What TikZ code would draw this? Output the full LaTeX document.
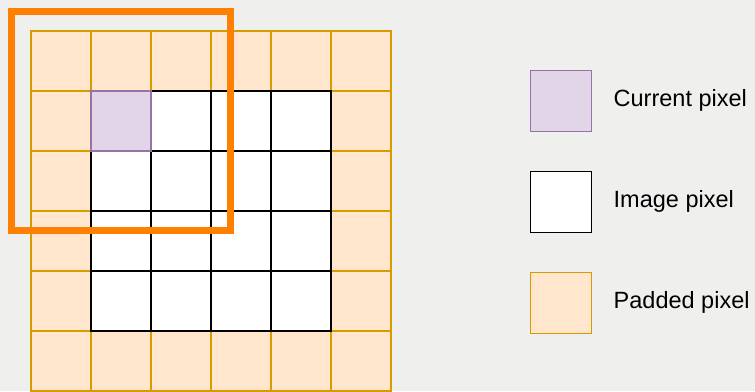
\documentclass[tikz,border=0pt]{standalone}
\usepackage{fontspec}
\setmainfont{Liberation Sans}
\usetikzlibrary{positioning,fit}
\definecolor{paper}{RGB}{239,239,238}
\definecolor{padfill}{HTML}{FFE6CC}
\definecolor{paddraw}{HTML}{D79B00}
\definecolor{curfill}{HTML}{E1D5E7}
\definecolor{curdraw}{HTML}{9673A6}
\definecolor{winorange}{HTML}{FF8000}
\tikzset{
  pix/.style   ={rectangle, minimum size=60pt, inner sep=0pt, outer sep=0pt, line width=1.4pt},
  padpix/.style={pix, draw=paddraw, fill=padfill},
  imgpix/.style={pix, draw=black, fill=white},
  curpix/.style={pix, draw=curdraw, fill=curfill},
  win/.style   ={rectangle, draw=winorange, line width=7pt, inner sep=19.5pt, outer sep=0pt},
  legtxt/.style={font=\fontsize{23.5}{28}\selectfont, inner sep=0pt, anchor=west},
}

\begin{document}
\begin{tikzpicture}[x=1pt, y=-1pt, node distance=22pt]
\fill[paper] (0,0) rectangle (755,391);
\useasboundingbox (0,0) rectangle (755,391);
% padded border, 6x6
\foreach \i in {0,...,5}
  \foreach \j in {0,...,5}
    \node[padpix] (p-\i-\j) at (61+60*\i, 61+60*\j) {};
% image pixels, 4x4 inside
\foreach \i in {1,...,4}
  \foreach \j in {1,...,4}
    \node[imgpix] (c-\i-\j) at (p-\i-\j) {};
\node[curpix] (cur) at (p-1-1) {};
% 3x3 window
\node[win, fit=(p-0-0)(p-2-2)] (window) {};
% legend
\node[curpix, minimum size=61pt] (legcur) at (561,100.7) {};
\node[imgpix, minimum size=61pt, below=40pt of legcur] (legimg) {};
\node[padpix, minimum size=61pt, below=40pt of legimg] (legpad) {};
\node[legtxt, right=of legcur.east] (curtxt) {Current pixel};
\node[legtxt, right=of legimg.east] (imgtxt) {Image pixel};
\node[legtxt, right=of legpad.east] (padtxt) {Padded pixel};
\end{tikzpicture}
\end{document}
